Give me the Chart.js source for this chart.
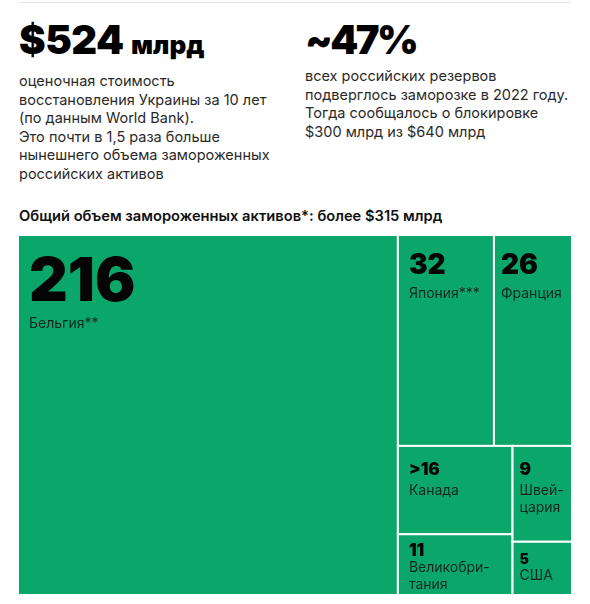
<!DOCTYPE html>
<html lang="ru">

<head>
  <meta charset="UTF-8" />
  <meta name="viewport" content="width=device-width, initial-scale=1.0" />
  <title>Замороженные российские активы</title>
  <script src="https://cdn.jsdelivr.net/npm/chart.js@4.4.1/dist/chart.umd.min.js"></script>
  <style>
    html, body {
      margin: 0;
      padding: 0;
      background: #fff;
    }

    body {
      position: relative;
      width: 590px;
      height: 604px;
      overflow: hidden;
      font-family: 'Inter', 'Noto Sans', sans-serif;
      color: #2a2a2a;
    }

    .top-rule {
      position: absolute;
      left: 19px;
      top: 2px;
      width: 552px;
      height: 1px;
      background: #e6e6e6;
    }

    .fact {
      position: absolute;
      top: 21px;
    }

    .fact h2 {
      margin: 0;
      font-size: 40px;
      line-height: 38px;
      font-weight: 900;
      letter-spacing: -0.5px;
      color: #000;
      white-space: nowrap;
    }

    .fact h2 small {
      font-size: 26px;
      font-weight: 900;
      letter-spacing: 0;
    }

    .fact h2.tight {
      letter-spacing: -2.5px;
    }

    .fact p {
      margin: 8px 0 0 0;
      font-size: 14.5px;
      line-height: 18.5px;
      white-space: nowrap;
    }

    .subtitle {
      position: absolute;
      left: 19px;
      top: 207px;
      margin: 0;
      font-size: 14.7px;
      line-height: 18px;
      font-weight: 600;
      color: #111;
      white-space: nowrap;
    }

    .chart-container {
      position: absolute;
      left: 18px;
      top: 235px;
      width: 554px;
      height: 360px;
    }
  </style>
</head>

<body>
  <div class="top-rule"></div>

  <div class="fact" style="left:19px;">
    <h2>$524 <small>млрд</small></h2>
    <p>оценочная стоимость<br>восстановления Украины за 10 лет<br>(по данным World Bank).<br>Это почти в 1,5 раза больше<br>нынешнего объема замороженных<br>российских активов</p>
  </div>

  <div class="fact" style="left:305px;">
    <h2 class="tight">~47%</h2>
    <p>всех российских резервов<br>подверглось заморозке в 2022 году.<br>Тогда сообщалось о блокировке<br>$300 млрд из $640 млрд</p>
  </div>

  <h5 class="subtitle">Общий объем замороженных активов*: более $315 млрд</h5>

  <div class="chart-container">
    <canvas id="assetsChart"></canvas>
  </div>

  <script>
    // frozen assets by country, $ bn
    const countries = ['Бельгия**', 'Япония***', 'Франция', 'Канада', 'Великобри-\nтания', 'Швей-\nцария', 'США'];
    const values = [216, 32, 26, 16, 11, 9, 5];
    const valueLabels = ['216', '32', '26', '>16', '11', '9', '5'];
    // grouping of the cells (indexes into the arrays above), split direction alternates by depth
    const groups = [0, [[1, 2], [[3, 4], [5, 6]]]];

    const total = values.reduce((a, b) => a + b, 0);

    function groupSum(node) {
      return Array.isArray(node) ? node.reduce((s, n) => s + groupSum(n), 0) : values[node];
    }

    // slice-and-dice layout in value units
    function layout(node, x0, y0, x1, y1, depth, out) {
      if (!Array.isArray(node)) {
        out[node] = { x0, y0, x1, y1, x: (x0 + x1) / 2, y: (y0 + y1) / 2, i: node };
        return out;
      }
      const sum = groupSum(node);
      let pos = depth % 2 === 0 ? x0 : y0;
      node.forEach(child => {
        const share = groupSum(child) / sum;
        if (depth % 2 === 0) {
          const w = (x1 - x0) * share;
          layout(child, pos, y0, pos + w, y1, depth + 1, out);
          pos += w;
        } else {
          const h = (y1 - y0) * share;
          layout(child, x0, pos, x1, pos + h, depth + 1, out);
          pos += h;
        }
      });
      return out;
    }

    const cells = layout(groups, 0, 0, total, total, 0, []);

    const green = '#0ba76a';

    function labelStyle(value, wPx, hPx) {
      let num = 14;
      if (value >= 100) num = 60;
      else if (value >= 20) num = 28;
      else if (value >= 6) num = 17;
      let top, gap;
      if (num === 60) { top = 65; gap = 27; }
      else if (num === 28) { top = 38; gap = 24; }
      else if (hPx < 70) { top = 21; gap = 16; }
      else { top = 28; gap = 20; }
      return { num, top, gap, pad: wPx < 90 ? 6 : 10 };
    }

    const treemapCells = {
      id: 'treemapCells',
      afterDatasetsDraw(chart) {
        const { ctx, scales: { x, y } } = chart;
        const data = chart.data.datasets[0].data;
        ctx.save();
        data.forEach(c => {
          const left = x.getPixelForValue(c.x0);
          const right = x.getPixelForValue(c.x1);
          const top = y.getPixelForValue(c.y0);
          const bottom = y.getPixelForValue(c.y1);
          ctx.fillStyle = green;
          ctx.fillRect(left, top, right - left, bottom - top);
          ctx.strokeStyle = '#ffffff';
          ctx.lineWidth = 2;
          ctx.strokeRect(left, top, right - left, bottom - top);

          const st = labelStyle(values[c.i], right - left, bottom - top);
          const tx = left + 1 + st.pad;
          let ty = top + 1 + st.top;
          ctx.textBaseline = 'alphabetic';
          ctx.textAlign = 'left';
          ctx.fillStyle = '#050505';
          ctx.font = `900 ${st.num}px Inter, sans-serif`;
          ctx.fillText(valueLabels[c.i], tx, ty);

          ctx.fillStyle = '#10291e';
          ctx.font = '400 14px Inter, sans-serif';
          ty += st.gap;
          countries[c.i].split('\n').forEach(line => {
            ctx.fillText(line, tx, ty);
            ty += 17;
          });
        });
        ctx.restore();
      }
    };

    const assetsChart = new Chart(document.getElementById('assetsChart'), {
      type: 'scatter',
      data: {
        labels: countries,
        datasets: [{
          label: 'Замороженные активы, $ млрд',
          data: cells,
          pointRadius: 0,
          pointHoverRadius: 0
        }]
      },
      options: {
        responsive: true,
        maintainAspectRatio: false,
        animation: false,
        layout: { padding: 0 },
        events: [],
        plugins: {
          legend: { display: false },
          tooltip: { enabled: false }
        },
        scales: {
          x: { type: 'linear', min: 0, max: total, display: false },
          y: { type: 'linear', min: 0, max: total, reverse: true, display: false }
        }
      },
      plugins: [treemapCells]
    });
  </script>
</body>

</html>
